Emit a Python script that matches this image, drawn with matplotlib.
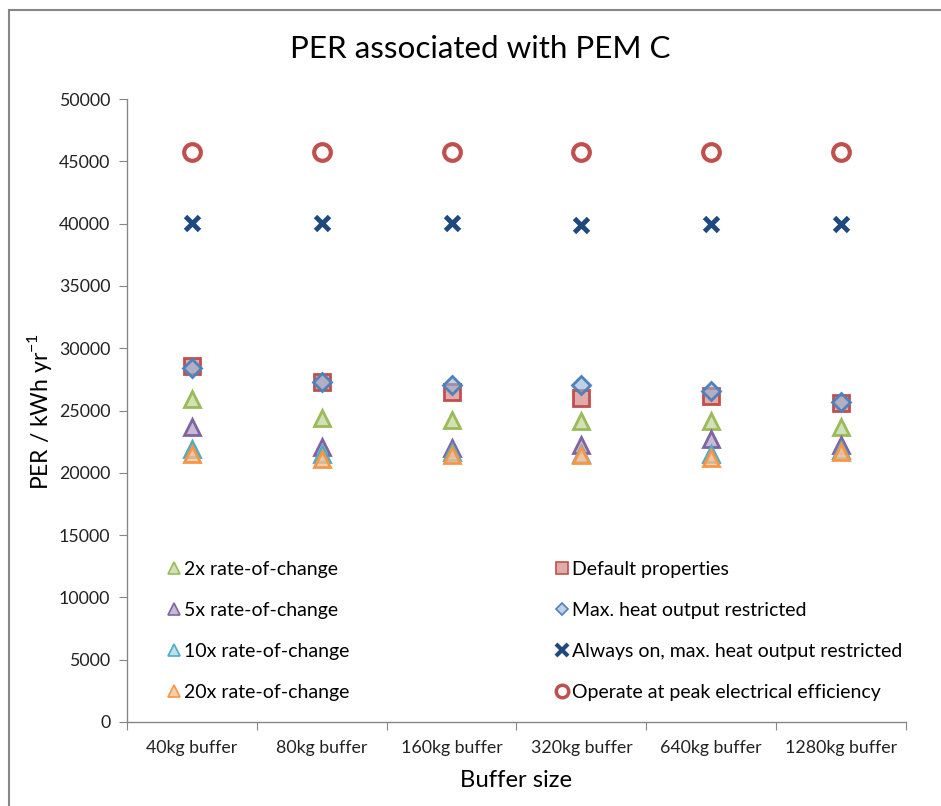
import matplotlib
matplotlib.use("Agg")
import matplotlib.pyplot as plt
from matplotlib.patches import Rectangle
from matplotlib.lines import Line2D

plt.rcParams['font.family'] = ['Lato', 'DejaVu Sans']

categories = ['40kg buffer', '80kg buffer', '160kg buffer', '320kg buffer', '640kg buffer', '1280kg buffer']
rate2x = [25950, 24400, 24200, 24150, 24150, 23700]
rate5x = [23700, 22100, 22000, 22250, 22750, 22200]
rate10x = [21900, 21500, 21650, 21500, 21500, 21850]
rate20x = [21500, 21100, 21400, 21400, 21200, 21700]
default_props = [28600, 27300, 26500, 26000, 26200, 25600]
max_heat = [28400, 27300, 27050, 27050, 26600, 25700]
always_on = [40020, 40020, 40020, 39890, 39940, 39940]
peak_eff = [45770, 45720, 45720, 45720, 45720, 45720]

labels_left = ['2x rate-of-change', '5x rate-of-change', '10x rate-of-change', '20x rate-of-change']
labels_right = ['Default properties', 'Max. heat output restricted',
                'Always on, max. heat output restricted', 'Operate at peak electrical efficiency']

fig = plt.figure(figsize=(9.41, 8.06), dpi=100)
ax = fig.add_axes([127/941, 84/806, (906-127)/941, (722-99)/806])

x = list(range(len(categories)))

GREEN_E, GREEN_F = '#9BBB59', (0.76, 0.84, 0.61, 0.75)
PURP_E, PURP_F = '#8064A2', (0.70, 0.64, 0.78, 0.75)
CYAN_E, CYAN_F = '#4BACC6', (0.65, 0.84, 0.89, 0.75)
ORNG_E, ORNG_F = '#F79646', (0.98, 0.75, 0.56, 0.75)
RED_E, RED_F = '#C0504D', (0.85, 0.59, 0.58, 0.8)
BLUE_E, BLUE_F = '#4F81BD', (0.58, 0.70, 0.84, 0.6)
NAVY = '#1F497D'

def tri(e, f):
    return dict(marker='^', linestyle='none', markersize=12, markeredgewidth=2,
                markeredgecolor=e, markerfacecolor=f)

ax.plot(x, rate2x, **tri(GREEN_E, GREEN_F))
ax.plot(x, default_props, marker='s', linestyle='none', markersize=11, markeredgewidth=2,
        markeredgecolor=RED_E, markerfacecolor=RED_F)
ax.plot(x, rate5x, **tri(PURP_E, PURP_F))
ax.plot(x, max_heat, marker='D', linestyle='none', markersize=9.5, markeredgewidth=2,
        markeredgecolor=BLUE_E, markerfacecolor=BLUE_F)
ax.plot(x, rate10x, **tri(CYAN_E, CYAN_F))
ax.plot(x, always_on, marker='x', linestyle='none', markersize=10, markeredgewidth=3.5, color=NAVY)
ax.plot(x, rate20x, **tri(ORNG_E, ORNG_F))
ax.plot(x, peak_eff, marker='o', linestyle='none', markersize=12, markeredgewidth=3,
        markeredgecolor=RED_E, markerfacecolor='white')

ax.set_xlim(-0.5, len(categories) - 0.5)
ax.set_ylim(0, 50000)
ax.set_yticks(range(0, 50001, 5000))
ax.set_xticks([i - 0.5 for i in range(len(categories) + 1)])
ax.set_xticklabels([])
ax.set_xticks(x, minor=True)
ax.set_xticklabels(categories, minor=True)
ax.tick_params(axis='x', which='minor', length=0, pad=13, labelsize=12.8, labelcolor='#222222')
ax.tick_params(axis='x', which='major', length=6, color='#868686', direction='out')
ax.tick_params(axis='y', length=6, color='#868686', direction='out', pad=6,
               labelsize=12.8, labelcolor='#222222')
for s in ['top', 'right']:
    ax.spines[s].set_visible(False)
for s in ['left', 'bottom']:
    ax.spines[s].set_color('#868686')
    ax.spines[s].set_linewidth(1)

fig.text(480/941, 1 - 49/806, 'PER associated with PEM C', fontsize=22.6, ha='center', va='center')
ax.set_xlabel('Buffer size', fontsize=17.2, labelpad=10)
ax.set_ylabel('PER / kWh yr$^{\\mathregular{-1}}$', fontsize=16.5)
ax.yaxis.set_label_coords((54-127)/779, 0.5 + (722-411-311.5)/623)

def lh(**kw):
    return Line2D([], [], linestyle='none', **kw)

def ltri(e, f):
    return lh(marker='^', markersize=9, markeredgewidth=1.2, markeredgecolor=e, markerfacecolor=f)

handles_left = [ltri(GREEN_E, GREEN_F), ltri(PURP_E, PURP_F), ltri(CYAN_E, CYAN_F), ltri(ORNG_E, ORNG_F)]
handles_right = [
    lh(marker='s', markersize=8, markeredgewidth=1.2, markeredgecolor=RED_E, markerfacecolor=RED_F),
    lh(marker='D', markersize=6.5, markeredgewidth=1.2, markeredgecolor=BLUE_E, markerfacecolor=BLUE_F),
    lh(marker='x', markersize=8, markeredgewidth=3, color=NAVY),
    lh(marker='o', markersize=9, markeredgewidth=2.5, markeredgecolor=RED_E, markerfacecolor='white'),
]

leg_kw = dict(frameon=False, fontsize=14, labelspacing=1.24, handletextpad=0.15,
              handlelength=0.8, borderaxespad=0, loc='upper left')
leg1 = ax.legend(handles_left, labels_left,
                 bbox_to_anchor=((158-127)/779, (722-553)/623), **leg_kw)
ax.add_artist(leg1)
ax.legend(handles_right, labels_right,
          bbox_to_anchor=((546-127)/779, (722-553)/623), **leg_kw)

fig.patches.append(Rectangle((9/941, -0.1), 1.2, (806-10)/806 + 0.1, transform=fig.transFigure,
                             fill=False, edgecolor='#868686', linewidth=1.5))

fig.savefig('out.png', dpi=100)
